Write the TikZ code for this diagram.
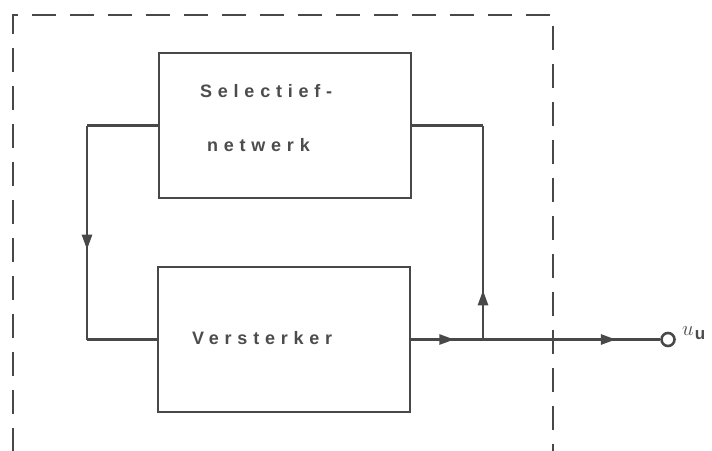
\documentclass[tikz,border=0pt]{standalone}
\usepackage{fontspec}
\setsansfont{Liberation Sans}
\usetikzlibrary{arrows.meta,decorations.markings}
\definecolor{ink}{HTML}{484848}
\definecolor{txt}{HTML}{4C4C4C}
\newfontfamily\spacedfont[LetterSpace=32,BoldFont={Liberation Sans Bold}]{Liberation Sans}
\tikzset{
  blockbox/.style={draw=ink, line width=2.6pt, rectangle, minimum width=252pt, minimum height=145pt, inner sep=0pt},
  wire/.style={draw=ink, line width=2.6pt},
  frame/.style={draw=ink, line width=2.2pt, dash pattern=on 24pt off 14pt},
  lbl/.style={font=\spacedfont\bfseries\fontsize{18}{20}\selectfont, text=txt, inner sep=0pt},
  midarrow/.style={postaction={decorate}, decoration={markings, mark=at position #1 with {\arrow{Triangle[length=15pt,width=10pt]}}}},
}
\begin{document}
\begin{tikzpicture}[x=1pt,y=-1pt]
\useasboundingbox (0,0) rectangle (712,450);
% dashed enclosure
\draw[frame] (13,452) -- (13,15) -- (553,15) -- (553,452);
% blocks
\node[blockbox] (sel) at (285,125.5) {};
\node[blockbox] (ver) at (284,339.5) {};
\node[lbl, anchor=base west] (t1) at (200,97) {Selectief-};
\node[lbl, anchor=base west] (t2) at (207,151) {netwerk};
\node[lbl, anchor=base west] (t3) at (192,344) {Versterker};
% feedback loop left
\coordinate (lt) at (87,0 |- sel.west);
\coordinate (lb) at (87,0 |- ver.west);
\path[wire] (sel.west) -- (lt);
\path[wire, midarrow=0.58] (lt) -- (lb);
\path[wire] (lb) -- (ver.west);
% output and feedback right
\coordinate (j) at (483,0 |- ver.east);
\coordinate (rt) at (483,0 |- sel.east);
\node[draw=ink, line width=2.6pt, circle, minimum size=13pt, inner sep=0pt] (out) at (668,0 |- ver.east) {};
\path[wire, midarrow=0.6] (ver.east) -- (j);
\path[wire, midarrow=0.75] (j) -- (out.west);
\path[wire, midarrow=0.23] (j) -- (rt);
\path[wire] (rt) -- (sel.east);
\node[anchor=west, inner sep=0pt, text=txt] (lab) at (682,333) {\fontsize{20}{22}\selectfont$u$\hspace{1pt}\raisebox{-4pt}{\sffamily\bfseries\fontsize{17}{17}\selectfont u}};
\end{tikzpicture}
\end{document}
